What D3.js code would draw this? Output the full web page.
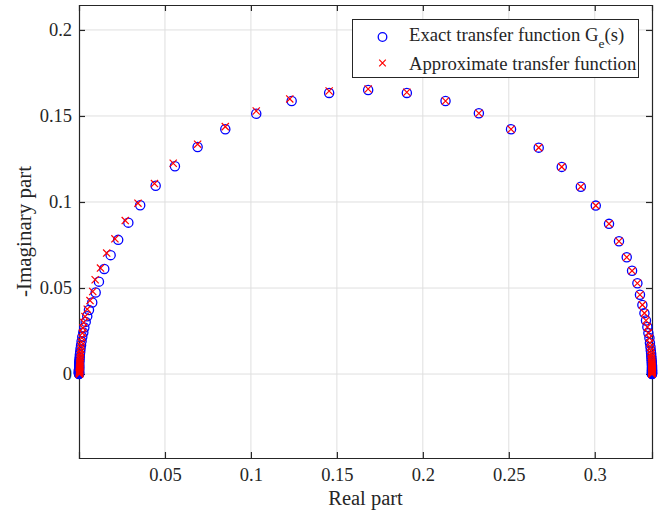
<!DOCTYPE html>
<html>
<head>
<meta charset="utf-8">
<script src="https://cdn.jsdelivr.net/npm/d3@7"></script>
<style>
  body { margin: 0; background: #fff; }
  text { font-family: "Liberation Serif", "Times New Roman", serif; fill: #262626; }
</style>
</head>
<body>
<div class="container"></div>
<script>
// Exact transfer function G_e(s): real and -imaginary parts
const exactRe = [
  0.0000, 0.0000, 0.0000, 0.0000, 0.0000, 0.0000, 0.0000, 0.0000, 0.0000, 0.0000,
  0.0000, 0.0000, 0.0001, 0.0001, 0.0001, 0.0001, 0.0001, 0.0001, 0.0002, 0.0003,
  0.0004, 0.0005, 0.0007, 0.0009, 0.0012, 0.0015, 0.0019, 0.0025, 0.0031, 0.0039,
  0.0048, 0.0058, 0.0077, 0.0097, 0.0116, 0.0147, 0.0184, 0.0228, 0.0287, 0.0356,
  0.0446, 0.0558, 0.0690, 0.0851, 0.1031, 0.1237, 0.1455, 0.1682,
  0.1907, 0.2132, 0.2326, 0.2513, 0.2674, 0.2808, 0.2919, 0.3006, 0.3083, 0.3141,
  0.3186, 0.3217, 0.3248, 0.3263, 0.3277, 0.3289, 0.3298, 0.3306, 0.3312, 0.3318,
  0.3321, 0.3324, 0.3326, 0.3328, 0.3329, 0.3330, 0.3331, 0.3332, 0.3332, 0.3333,
  0.3333, 0.3333, 0.3333, 0.3333, 0.3333, 0.3333, 0.3333, 0.3333, 0.3333, 0.3333,
  0.3333, 0.3333, 0.3333
]
const exactIm = [
  0.0000, 0.0002, 0.0004, 0.0006, 0.0008, 0.0010, 0.0012, 0.0014, 0.0017, 0.0020,
  0.0023, 0.0027, 0.0031, 0.0036, 0.0042, 0.0048, 0.0056, 0.0064, 0.0074, 0.0085,
  0.0097, 0.0112, 0.0128, 0.0147, 0.0167, 0.0190, 0.0215, 0.0242, 0.0271, 0.0303,
  0.0336, 0.0372, 0.0416, 0.0474, 0.0537, 0.0611, 0.0691, 0.0780, 0.0880, 0.0981,
  0.1094, 0.1208, 0.1320, 0.1423, 0.1513, 0.1587, 0.1634, 0.1651,
  0.1634, 0.1587, 0.1516, 0.1423, 0.1316, 0.1204, 0.1089, 0.0979, 0.0873, 0.0772,
  0.0679, 0.0600, 0.0528, 0.0461, 0.0402, 0.0354, 0.0311, 0.0273, 0.0238, 0.0209,
  0.0180, 0.0157, 0.0137, 0.0119, 0.0104, 0.0090, 0.0078, 0.0068, 0.0059, 0.0051,
  0.0044, 0.0038, 0.0033, 0.0028, 0.0024, 0.0020, 0.0017, 0.0014, 0.0011, 0.0008,
  0.0005, 0.0002, 0.0000
]

// Approximate transfer function
const approxRe = [
  0.0003, 0.0003, 0.0003, 0.0003, 0.0003, 0.0003, 0.0004, 0.0004, 0.0004, 0.0004,
  0.0004, 0.0005, 0.0005, 0.0005, 0.0006, 0.0006, 0.0007, 0.0008, 0.0009, 0.0010,
  0.0012, 0.0014, 0.0017, 0.0020, 0.0023, 0.0027, 0.0035, 0.0048, 0.0064, 0.0080,
  0.0094, 0.0125, 0.0161, 0.0209, 0.0269, 0.0343, 0.0439, 0.0548, 0.0690, 0.0851,
  0.1031, 0.1226, 0.1455, 0.1682,
  0.1907, 0.2132, 0.2326, 0.2513, 0.2674, 0.2808, 0.2919, 0.3006, 0.3083, 0.3141,
  0.3186, 0.3217, 0.3248, 0.3263, 0.3277, 0.3289, 0.3298, 0.3306, 0.3312, 0.3318,
  0.3321, 0.3324, 0.3326, 0.3328, 0.3329, 0.3330, 0.3331, 0.3332, 0.3332, 0.3333,
  0.3333, 0.3333, 0.3333, 0.3333, 0.3333, 0.3333, 0.3333, 0.3333, 0.3333, 0.3333,
  0.3333, 0.3333, 0.3333
]
const approxIm = [
  0.0000, 0.0002, 0.0005, 0.0008, 0.0011, 0.0014, 0.0018, 0.0022, 0.0027, 0.0032,
  0.0038, 0.0045, 0.0053, 0.0062, 0.0072, 0.0083, 0.0096, 0.0110, 0.0126, 0.0144,
  0.0164, 0.0186, 0.0211, 0.0238, 0.0268, 0.0300, 0.0334, 0.0377, 0.0427, 0.0480,
  0.0548, 0.0616, 0.0703, 0.0786, 0.0892, 0.0993, 0.1107, 0.1225, 0.1336, 0.1438,
  0.1529, 0.1599, 0.1645, 0.1657,
  0.1638, 0.1587, 0.1516, 0.1423, 0.1316, 0.1204, 0.1089, 0.0979, 0.0873, 0.0772,
  0.0679, 0.0600, 0.0528, 0.0461, 0.0402, 0.0354, 0.0311, 0.0273, 0.0238, 0.0209,
  0.0180, 0.0157, 0.0137, 0.0119, 0.0104, 0.0090, 0.0078, 0.0068, 0.0059, 0.0051,
  0.0044, 0.0038, 0.0033, 0.0028, 0.0024, 0.0020, 0.0017, 0.0014, 0.0011, 0.0008,
  0.0005, 0.0002, 0.0000
]

const xTicks = [0.05, 0.1, 0.15, 0.2, 0.25, 0.3]
const yTicks = [0, 0.05, 0.1, 0.15, 0.2]

const w = 670
const h = 515
const plotL = 79, plotR = 652, plotT = 5, plotB = 458
const axisColor = '#262626'

const svg = d3.select('.container')
  .append('svg')
  .attr('width', w)
  .attr('height', h)

const xScale = d3.scaleLinear().domain([0, 0.3333]).range([plotL, plotR])
const yScale = d3.scaleLinear().domain([-0.0488, 0.2145]).range([plotB, plotT])

// grid
svg.append('g')
  .selectAll('line')
  .data(xTicks)
  .join('line')
  .attr('x1', d => xScale(d)).attr('x2', d => xScale(d))
  .attr('y1', plotT).attr('y2', plotB)
  .attr('stroke', '#dfdfdf')
  .attr('stroke-width', 1)

svg.append('g')
  .selectAll('line')
  .data(yTicks)
  .join('line')
  .attr('x1', plotL).attr('x2', plotR)
  .attr('y1', d => yScale(d)).attr('y2', d => yScale(d))
  .attr('stroke', '#dfdfdf')
  .attr('stroke-width', 1)

// axes with inward ticks on all four sides
const fmt = d => d === 0 ? '0' : d3.format('')(d)
const tickLen = 6

const xAxis = d3.axisBottom(xScale).tickValues(xTicks).tickSize(-tickLen).tickPadding(10).tickFormat(fmt)
const xTop = d3.axisTop(xScale).tickValues(xTicks).tickSize(-tickLen).tickFormat('')
const yAxis = d3.axisLeft(yScale).tickValues(yTicks).tickSize(-tickLen).tickPadding(7).tickFormat(fmt)
const yRight = d3.axisRight(yScale).tickValues(yTicks).tickSize(-tickLen).tickFormat('')

function styleAxis(g) {
  g.select('.domain').attr('stroke', axisColor).attr('stroke-width', 1.2)
  g.selectAll('.tick line').attr('stroke', axisColor).attr('stroke-width', 1.2)
  g.selectAll('.tick text')
    .attr('fill', axisColor)
    .attr('font-size', 18.5)
    .attr('font-family', '"Liberation Serif", serif')
}

svg.append('g').attr('transform', `translate(0, ${plotB})`).call(xAxis).call(styleAxis)
svg.append('g').attr('transform', `translate(0, ${plotT})`).call(xTop).call(styleAxis)
svg.append('g').attr('transform', `translate(${plotL}, 0)`).call(yAxis).call(styleAxis)
svg.append('g').attr('transform', `translate(${plotR}, 0)`).call(yRight).call(styleAxis)

// data markers
const exact = exactRe.map((d, i) => ({ re: d, im: exactIm[i] }))
const approx = approxRe.map((d, i) => ({ re: d, im: approxIm[i] }))

svg.append('g')
  .selectAll('circle')
  .data(exact)
  .join('circle')
  .attr('cx', d => xScale(d.re))
  .attr('cy', d => yScale(d.im))
  .attr('r', 4.6)
  .attr('fill', 'none')
  .attr('stroke', '#0000ff')
  .attr('stroke-width', 1.3)

const xMark = 3.6
svg.append('g')
  .selectAll('path')
  .data(approx)
  .join('path')
  .attr('d', d => {
    const cx = xScale(d.re), cy = yScale(d.im)
    return `M${cx - xMark},${cy - xMark}L${cx + xMark},${cy + xMark}M${cx - xMark},${cy + xMark}L${cx + xMark},${cy - xMark}`
  })
  .attr('fill', 'none')
  .attr('stroke', '#ff0000')
  .attr('stroke-width', 1.2)

// axis labels
svg.append('text')
  .text('Real part')
  .attr('x', (plotL + plotR) / 2)
  .attr('y', 505)
  .attr('text-anchor', 'middle')
  .attr('font-size', 20.5)

svg.append('text')
  .text('-Imaginary part')
  .attr('transform', `translate(31, ${(plotT + plotB) / 2}) rotate(-90)`)
  .attr('text-anchor', 'middle')
  .attr('font-size', 21)

// legend
const legend = svg.append('g')
legend.append('rect')
  .attr('x', 352.5).attr('y', 19.5)
  .attr('width', 286).attr('height', 58)
  .attr('fill', '#fff')
  .attr('stroke', axisColor)
  .attr('stroke-width', 1)

legend.append('circle')
  .attr('cx', 382.5).attr('cy', 37)
  .attr('r', 4.3)
  .attr('fill', 'none')
  .attr('stroke', '#0000ff')
  .attr('stroke-width', 1.3)

legend.append('path')
  .attr('d', `M${382.5 - 3.3},${63 - 3.3}L${382.5 + 3.3},${63 + 3.3}M${382.5 - 3.3},${63 + 3.3}L${382.5 + 3.3},${63 - 3.3}`)
  .attr('stroke', '#ff0000')
  .attr('stroke-width', 1.2)

const t1 = legend.append('text')
  .attr('x', 409).attr('y', 41)
  .attr('font-size', 18.7)
t1.append('tspan').text('Exact transfer function G')
t1.append('tspan').text('e').attr('font-size', 13.5).attr('dy', 7)
t1.append('tspan').text('(s)').attr('dy', -7)

legend.append('text')
  .text('Approximate transfer function')
  .attr('x', 409).attr('y', 70)
  .attr('font-size', 18.7)
</script>
</body>
</html>
